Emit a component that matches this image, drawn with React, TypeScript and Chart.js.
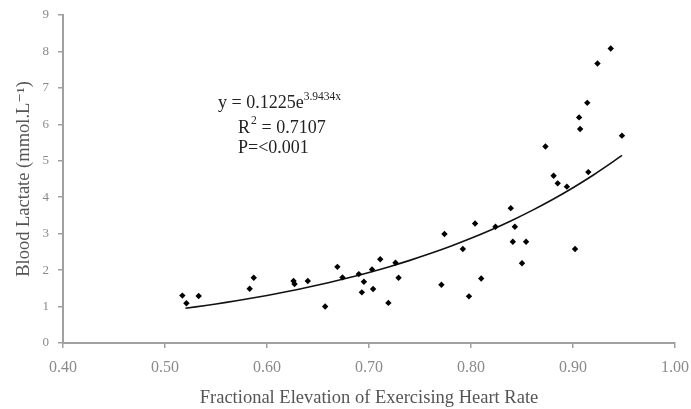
import React, { useEffect, useRef } from "react";
import { Chart, registerables } from "chart.js";

Chart.register(...registerables);

// Fractional elevation of exercising heart rate (x) and blood lactate (y)
const heartRate = [
  0.517, 0.521, 0.533, 0.583, 0.587, 0.626, 0.627, 0.640, 0.657, 0.669,
  0.674, 0.690, 0.693, 0.695, 0.703, 0.704, 0.711, 0.719, 0.726, 0.729,
  0.771, 0.774, 0.792, 0.798, 0.804, 0.810, 0.824, 0.839, 0.843, 0.841,
  0.850, 0.854, 0.873, 0.881, 0.885, 0.894, 0.902, 0.906, 0.907, 0.914,
  0.915, 0.924, 0.937, 0.948,
];
const lactate = [
  1.30, 1.09, 1.29, 1.49, 1.79, 1.70, 1.62, 1.70, 1.00, 2.09,
  1.80, 1.89, 1.39, 1.68, 2.02, 1.48, 2.30, 1.10, 2.20, 1.79,
  1.60, 2.99, 2.58, 1.28, 3.28, 1.77, 3.19, 3.70, 3.19, 2.78,
  2.19, 2.78, 5.39, 4.59, 4.38, 4.29, 2.58, 6.19, 5.87, 6.59,
  4.69, 7.67, 8.08, 5.69,
];

// Exponential fit printed on the chart: y = 0.1225 e^(3.9434x)
const fitA = 0.1225;
const fitB = 3.9434;
const fitXs = [
  0.52, 0.54, 0.56, 0.58, 0.60, 0.62, 0.64, 0.66, 0.68, 0.70, 0.72, 0.74,
  0.76, 0.78, 0.80, 0.82, 0.84, 0.86, 0.88, 0.90, 0.92, 0.94, 0.948,
];

const xTickLabels = ["0.40", "0.50", "0.60", "0.70", "0.80", "0.90", "1.00"];
const yTickLabels = ["0", "1", "2", "3", "4", "5", "6", "7", "8", "9"];

const SERIF = '"Liberation Serif", "DejaVu Serif", serif';

const equationPlugin = {
  id: "equationText",
  afterDraw(chart: any) {
    const ctx = chart.ctx as CanvasRenderingContext2D;
    ctx.save();
    ctx.fillStyle = "#222";
    ctx.textBaseline = "alphabetic";
    ctx.textAlign = "left";
    // line 1
    ctx.font = `18px ${SERIF}`;
    const l1 = "y = 0.1225e";
    ctx.fillText(l1, 218, 108);
    const w1 = ctx.measureText(l1).width;
    ctx.font = `11.5px ${SERIF}`;
    ctx.fillText("3.9434x", 218 + w1, 100);
    // line 2
    ctx.font = `18px ${SERIF}`;
    ctx.fillText("R", 238, 133);
    const wr = ctx.measureText("R").width;
    ctx.font = `11.5px ${SERIF}`;
    ctx.fillText("2", 238 + wr + 1, 124);
    ctx.font = `18px ${SERIF}`;
    ctx.fillText(" = 0.7107", 238 + wr + 7, 133);
    // line 3
    ctx.fillText("P=<0.001", 238, 153);
    ctx.restore();
  },
};

export default function App() {
  const canvasRef = useRef<HTMLCanvasElement | null>(null);

  useEffect(() => {
    document.body.style.margin = "0";
    const canvas = canvasRef.current;
    if (!canvas) return;

    const points = heartRate.map((x, i) => ({ x, y: lactate[i] }));
    const fit = fitXs.map((x) => ({ x, y: fitA * Math.exp(fitB * x) }));

    const chart = new Chart(canvas, {
      type: "scatter",
      data: {
        datasets: [
          {
            label: "Data",
            data: points,
            pointStyle: "rectRot",
            pointRadius: 3.2,
            backgroundColor: "#000",
            borderColor: "#000",
            borderWidth: 0,
          },
          {
            label: "Fit",
            data: fit,
            showLine: true,
            pointRadius: 0,
            borderColor: "#111",
            borderWidth: 1.6,
            tension: 0.3,
          } as any,
        ],
      },
      options: {
        animation: false,
        responsive: false,
        maintainAspectRatio: false,
        layout: { padding: { top: 15, right: 16, left: 13, bottom: 0 } },
        plugins: {
          legend: { display: false },
          tooltip: { enabled: false },
        },
        scales: {
          x: {
            type: "linear",
            min: 0.4,
            max: 1.0,
            afterBuildTicks: (s: any) => {
              s.ticks = xTickLabels.map((t) => ({ value: parseFloat(t) }));
            },
            afterFit: (s: any) => {
              s.height = 66;
              s.paddingLeft = 0;
              s.paddingRight = 0;
            },
            ticks: {
              callback: (v: any) => {
                const i = xTickLabels.findIndex((t) => Math.abs(parseFloat(t) - v) < 1e-6);
                return i >= 0 ? xTickLabels[i] : "";
              },
              font: { family: SERIF, size: 16 },
              color: "#8a8a8a",
              padding: 10,
              maxRotation: 0,
            },
            grid: {
              drawOnChartArea: false,
              drawTicks: true,
              tickLength: 5,
              color: "#a0a0a0",
              lineWidth: 1.5,
            },
            border: { color: "#a0a0a0", width: 2 },
            title: {
              display: true,
              text: "Fractional Elevation of Exercising Heart Rate",
              font: { family: SERIF, size: 18.5 },
              color: "#555",
              padding: { top: 0, bottom: 0 },
            },
          },
          y: {
            type: "linear",
            min: 0,
            max: 9,
            afterBuildTicks: (s: any) => {
              s.ticks = yTickLabels.map((t) => ({ value: parseFloat(t) }));
            },
            afterFit: (s: any) => {
              s.width = 50;
              s.paddingTop = 0;
              s.paddingBottom = 0;
            },
            ticks: {
              callback: (v: any) => {
                const i = yTickLabels.findIndex((t) => Math.abs(parseFloat(t) - v) < 1e-6);
                return i >= 0 ? yTickLabels[i] : "";
              },
              font: { family: SERIF, size: 13 },
              color: "#8a8a8a",
              padding: 9,
            },
            grid: {
              drawOnChartArea: false,
              drawTicks: true,
              tickLength: 5,
              color: "#a0a0a0",
              lineWidth: 1.5,
            },
            border: { color: "#a0a0a0", width: 2 },
            title: {
              display: true,
              text: "Blood Lactate (mmol.L⁻¹)",
              font: { family: SERIF, size: 18.5 },
              color: "#555",
              padding: { top: 0, bottom: 0 },
            },
          },
        },
      },
      plugins: [equationPlugin],
    });

    return () => chart.destroy();
  }, []);

  return (
    <div style={{ position: "fixed", left: 0, top: 0, width: 691, height: 409, background: "#fff" }}>
      <canvas ref={canvasRef} width={691} height={409} style={{ width: 691, height: 409 }} />
    </div>
  );
}
